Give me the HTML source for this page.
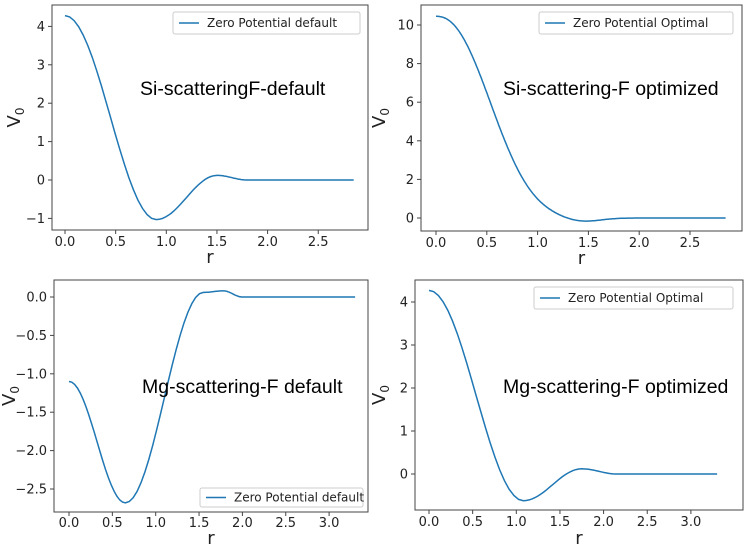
<!DOCTYPE html>
<html><head><meta charset="utf-8"><style>
body{margin:0;background:#fff;}
svg{display:block;font-family:"DejaVu Sans","Liberation Sans",sans-serif;}
.t{font-size:13px;fill:#222;}
.ann{font-family:"Liberation Sans",sans-serif;font-size:19.5px;fill:#000;}
.lg{font-size:12px;fill:#222;}
</style></head><body>
<svg id="s" width="750" height="555" viewBox="0 0 750 555" xmlns="http://www.w3.org/2000/svg"></svg>
<script>
const S=document.getElementById('s');let h='';
function panel(p){
 const {L,R,T,B,x0,xs,y0,ys,xt,yt,pts,leg,legT,ann,ax,ay,tlY,rY}=p;
 const X=v=>x0+v*xs, Y=v=>y0-v*ys;
 h+=`<rect x="${L}" y="${T}" width="${R-L}" height="${B-T}" fill="none" stroke="#444" stroke-width="1"/>`;
 xt.forEach(v=>{const x=X(v);h+=`<line x1="${x}" y1="${B}" x2="${x}" y2="${B+4}" stroke="#444"/><text class="t" x="${x}" y="${tlY}" text-anchor="middle">${v.toFixed(1)}</text>`;});
 yt.forEach(v=>{const y=Y(v);const s=p.yfmt?p.yfmt(v):String(v);h+=`<line x1="${L-4}" y1="${y}" x2="${L}" y2="${y}" stroke="#444"/><text class="t" x="${L-7}" y="${y+4.5}" text-anchor="end">${s.replace('-','\u2212')}</text>`;});
 let d='';
 if(typeof pts==='function'){for(let k=0;k<=300;k++){const x=p.xmax*k/300;d+=(d?'L':'M')+X(x).toFixed(1)+','+Y(pts(x)).toFixed(1);}}
 else for(let i=0;i<pts.length-1;i++){const [a,va]=pts[i],[b,vb]=pts[i+1];
  for(let k=0;k<=20;k++){const t=k/20,w=(1-Math.cos(Math.PI*t))/2;const x=a+(b-a)*t,v=va+(vb-va)*w;d+=(d?'L':'M')+X(x).toFixed(1)+','+Y(v).toFixed(1);}}
 h+=`<path d="${d}" fill="none" stroke="#1f77b4" stroke-width="1.5"/>`;
 h+=`<rect x="${leg[0]}" y="${leg[1]}" width="${leg[2]}" height="${leg[3]}" fill="#fff" stroke="#ccc" rx="2"/>`;
 const ly=leg[1]+leg[3]/2;
 h+=`<line x1="${leg[0]+6}" y1="${ly}" x2="${leg[0]+26}" y2="${ly}" stroke="#1f77b4" stroke-width="1.5"/><text class="lg" x="${leg[0]+34}" y="${ly+4}">${legT}</text>`;
 h+=`<text class="ann" x="${ax}" y="${ay}">${ann}</text>`;
 h+=`<text x="${(L+R)/2}" y="${rY}" font-size="18" text-anchor="middle" fill="#222">r</text>`;
 const vy=(T+B)/2,vx=p.vx;
 h+=`<text transform="translate(${vx},${vy}) rotate(-90)" font-size="18" text-anchor="middle" fill="#222">V<tspan font-size="12" dy="4">0</tspan></text>`;
}
panel({L:52,R:368,T:5,B:230,x0:65,xs:101.3,y0:180,ys:38.4,xt:[0,0.5,1,1.5,2,2.5],yt:[-1,0,1,2,3,4],
 pts:[[0,4.28],[0.9,-1.03],[1.5,0.12],[1.8,0],[2.85,0]],leg:[173,12,187,22],legT:"Zero Potential default",
 ann:"Si-scatteringF-default",ax:140,ay:95,tlY:246,rY:263,vx:20});
panel({L:421,R:742,T:5,B:231,x0:436,xs:101.6,y0:218,ys:19.3,xt:[0,0.5,1,1.5,2,2.5],yt:[0,2,4,6,8,10],xmax:2.85,
 pts:x=>10.45*Math.exp(-Math.pow(x/0.69,2.3))-0.2*Math.exp(-Math.pow((x-1.43)/0.25,2)),leg:[539,12,194,22],legT:"Zero Potential Optimal",
 ann:"Si-scattering-F optimized",ax:503,ay:95,tlY:247,rY:264,vx:385});
panel({L:54,R:368,T:280,B:512,x0:69,xs:86.7,y0:297,ys:76.8,xt:[0,0.5,1,1.5,2,2.5,3],yt:[0,-0.5,-1,-1.5,-2,-2.5],yfmt:v=>v.toFixed(1),
 pts:[[0,-1.1],[0.65,-2.68],[1.55,0.06],[1.78,0.08],[2.0,0],[3.3,0]],leg:[200,488,163,19],legT:"Zero Potential default",
 ann:"Mg-scattering-F default",ax:142,ay:393,tlY:527,rY:544,vx:15});
panel({L:415,R:743,T:280,B:510,x0:429,xs:87.3,y0:474,ys:43,xt:[0,0.5,1,1.5,2,2.5,3],yt:[0,1,2,3,4],
 pts:[[0,4.27],[1.08,-0.62],[1.75,0.12],[2.15,0],[3.3,0]],leg:[534,287,199,22],legT:"Zero Potential Optimal",
 ann:"Mg-scattering-F optimized",ax:503,ay:393,tlY:526,rY:544,vx:385});
S.innerHTML=h;
</script>
</body></html>
